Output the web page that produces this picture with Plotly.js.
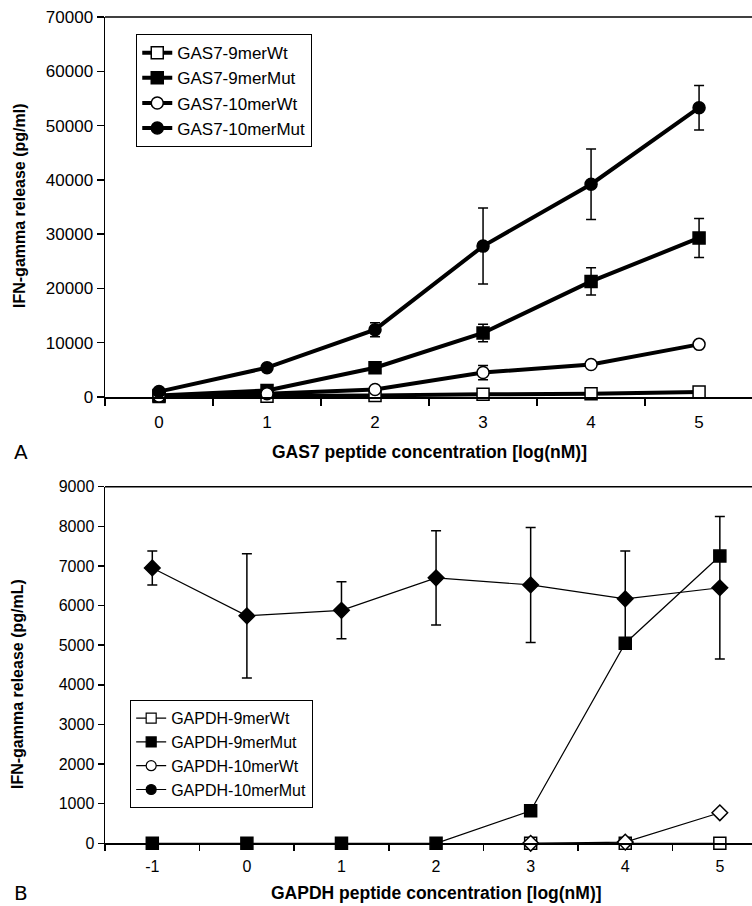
<!DOCTYPE html>
<html>
<head>
<meta charset="utf-8">
<script src="https://cdn.plot.ly/plotly-3.0.1.min.js"></script>
<style>html,body{margin:0;padding:0;background:#fff;}#chart{width:752px;height:906px;}</style>
</head>
<body>
<div id="chart"></div>
<script>
// ---- Panel A data (GAS7) ----
const topCategories = ['0', '1', '2', '3', '4', '5'];
const gas7_9merWt = [100, 150, 300, 500, 600, 900];
const gas7_9merMut = [300, 1200, 5400, 11800, 21300, 29300];
const gas7_9merMutErr = [null, null, null, 1600, 2500, 3600];
const gas7_10merWt = [200, 600, 1400, 4500, 6000, 9700];
const gas7_10merWtErr = [null, null, null, 1300, null, null];
const gas7_10merMut = [1000, 5400, 12400, 27800, 39200, 53300];
const gas7_10merMutErr = [null, null, 1300, 7000, 6500, 4100];

// ---- Panel B data (GAPDH) ----
const botCategories = ['-1', '0', '1', '2', '3', '4', '5'];
const gapdh_9merWt = [null, null, null, null, 0, 0, 0];
const gapdh_9merMut = [0, 0, 0, 0, 820, 5050, 7250];
const gapdh_10merWt = [null, null, null, null, 0, 30, 770];
const gapdh_10merMut = [6950, 5740, 5880, 6700, 6520, 6170, 6450];
const gapdh_10merMutErr = [430, 1570, 720, 1190, 1450, 1210, 1800];

const topNames = ['GAS7-9merWt', 'GAS7-9merMut', 'GAS7-10merWt', 'GAS7-10merMut'];
const botNames = ['GAPDH-9merWt', 'GAPDH-9merMut', 'GAPDH-10merWt', 'GAPDH-10merMut'];

const FONT = 'Liberation Sans, Arial, sans-serif';

function errObj(arr) {
  if (!arr) return {visible: false};
  return {type: 'data', array: arr, visible: true, color: 'black', thickness: 1.5, width: 5};
}

function topTrace(name, y, err, symbol, filled) {
  return {
    type: 'scatter', mode: 'lines+markers', name: name,
    x: topCategories, y: y, xaxis: 'x', yaxis: 'y',
    legend: 'legend', legendgroup: name, cliponaxis: false,
    line: {color: 'black', width: 4},
    marker: {symbol: symbol, size: 12, color: filled ? 'black' : 'white', line: {color: 'black', width: 1.5}},
    error_y: errObj(err)
  };
}

function botTrace(name, y, err, symbol, filled) {
  return {
    type: 'scatter', mode: 'lines+markers', name: name,
    x: botCategories, y: y, xaxis: 'x2', yaxis: 'y2',
    showlegend: false, cliponaxis: false,
    line: {color: 'black', width: 1.2},
    marker: {symbol: symbol, size: 12, color: filled ? 'black' : 'white', line: {color: 'black', width: 1.5}},
    error_y: errObj(err)
  };
}

function botLegend(name, symbol, filled) {
  return {
    type: 'scatter', mode: 'lines+markers', name: name,
    x: [null], y: [null], xaxis: 'x2', yaxis: 'y2',
    legend: 'legend2', legendgroup: name,
    line: {color: 'black', width: 1.2},
    marker: {symbol: symbol, size: 10, color: filled ? 'black' : 'white', line: {color: 'black', width: 1.2}}
  };
}

const data = [
  topTrace(topNames[0], gas7_9merWt, null, 'square', false),
  topTrace(topNames[1], gas7_9merMut, gas7_9merMutErr, 'square', true),
  topTrace(topNames[2], gas7_10merWt, gas7_10merWtErr, 'circle', false),
  topTrace(topNames[3], gas7_10merMut, gas7_10merMutErr, 'circle', true),
  botTrace(botNames[3], gapdh_10merMut, gapdh_10merMutErr, 'diamond', true),
  botTrace(botNames[1], gapdh_9merMut, null, 'square', true),
  botTrace(botNames[0], gapdh_9merWt, null, 'square', false),
  botTrace(botNames[2], gapdh_10merWt, null, 'diamond', false),
  botLegend(botNames[0], 'square', false),
  botLegend(botNames[1], 'square', true),
  botLegend(botNames[2], 'circle', false),
  botLegend(botNames[3], 'circle', true)
];

const axisCommon = {
  showline: true, linecolor: 'black', linewidth: 1.5,
  ticks: 'outside', tickcolor: 'black', tickwidth: 1.5,
  showgrid: false, zeroline: false, fixedrange: true
};

const TITLEFONT = {family: FONT, size: 17.5, weight: 'bold'};

const layout = {
  width: 752, height: 906,
  margin: {l: 105, r: 0, t: 0, b: 0},
  paper_bgcolor: 'white', plot_bgcolor: 'white',
  font: {family: FONT, color: 'black'},
  xaxis: Object.assign({}, axisCommon, {
    type: 'category', categoryorder: 'array', categoryarray: topCategories,
    domain: [0, 1], anchor: 'y', range: [-0.5, 5.49], tickson: 'boundaries',
    ticklen: 7, ticklabelstandoff: 9, tickfont: {family: FONT, size: 17}
  }),
  yaxis: Object.assign({}, axisCommon, {
    domain: [0.5618, 0.9812], anchor: 'x', range: [0, 70000], dtick: 10000,
    tickformat: 'd', ticklen: 7, tickfont: {family: FONT, size: 17}
  }),
  xaxis2: Object.assign({}, axisCommon, {
    type: 'category', categoryorder: 'array', categoryarray: botCategories,
    domain: [0, 1], anchor: 'y2', range: [-0.5, 6.34], tickson: 'boundaries',
    ticklen: 6, ticklabelstandoff: 8, tickfont: {family: FONT, size: 16}
  }),
  yaxis2: Object.assign({}, axisCommon, {
    domain: [0.0692, 0.4628], anchor: 'x2', range: [0, 9000], dtick: 1000,
    tickformat: 'd', ticklen: 6, tickfont: {family: FONT, size: 16}
  }),
  legend: {
    x: 0.048, y: 0.9625, xanchor: 'left', yanchor: 'top',
    bgcolor: 'white', bordercolor: 'black', borderwidth: 1.2,
    font: {family: FONT, size: 17}, tracegroupgap: 0, traceorder: 'normal'
  },
  legend2: {
    x: 0.0386, y: 0.2274, xanchor: 'left', yanchor: 'top',
    bgcolor: 'white', bordercolor: 'black', borderwidth: 1.2,
    font: {family: FONT, size: 16}, tracegroupgap: 0, traceorder: 'normal'
  },
  shapes: [
    {type: 'line', xref: 'x domain', yref: 'y domain', x0: 0, x1: 1, y0: 1, y1: 1, line: {color: 'black', width: 1.5}},
    {type: 'line', xref: 'x2 domain', yref: 'y2 domain', x0: 0, x1: 1, y0: 1, y1: 1, line: {color: 'black', width: 1.5}}
  ],
  annotations: [
    {text: 'IFN-gamma release (pg/ml)', textangle: -90, xref: 'paper', yref: 'paper', x: -0.133, y: 0.7737,
     xanchor: 'center', yanchor: 'middle', showarrow: false, font: {family: FONT, size: 16, weight: 'bold'}},
    {text: 'GAS7 peptide concentration [log(nM)]', xref: 'paper', yref: 'paper', x: 0.502, y: 0.501,
     xanchor: 'center', yanchor: 'middle', showarrow: false, font: TITLEFONT},
    {text: 'A', xref: 'paper', yref: 'paper', x: -0.13, y: 0.501, xanchor: 'center', yanchor: 'middle',
     showarrow: false, font: {family: 'DejaVu Sans, sans-serif', size: 20}},
    {text: 'IFN-gamma release (pg/mL)', textangle: -90, xref: 'paper', yref: 'paper', x: -0.136, y: 0.245,
     xanchor: 'center', yanchor: 'middle', showarrow: false, font: {family: FONT, size: 16, weight: 'bold'}},
    {text: 'GAPDH peptide concentration [log(nM)]', xref: 'paper', yref: 'paper', x: 0.513, y: 0.0143,
     xanchor: 'center', yanchor: 'middle', showarrow: false, font: TITLEFONT},
    {text: 'B', xref: 'paper', yref: 'paper', x: -0.13, y: 0.0143, xanchor: 'center', yanchor: 'middle',
     showarrow: false, font: {family: 'DejaVu Sans, sans-serif', size: 20}}
  ]
};

Plotly.newPlot('chart', data, layout, {displayModeBar: false, staticPlot: true});
</script>
</body>
</html>
